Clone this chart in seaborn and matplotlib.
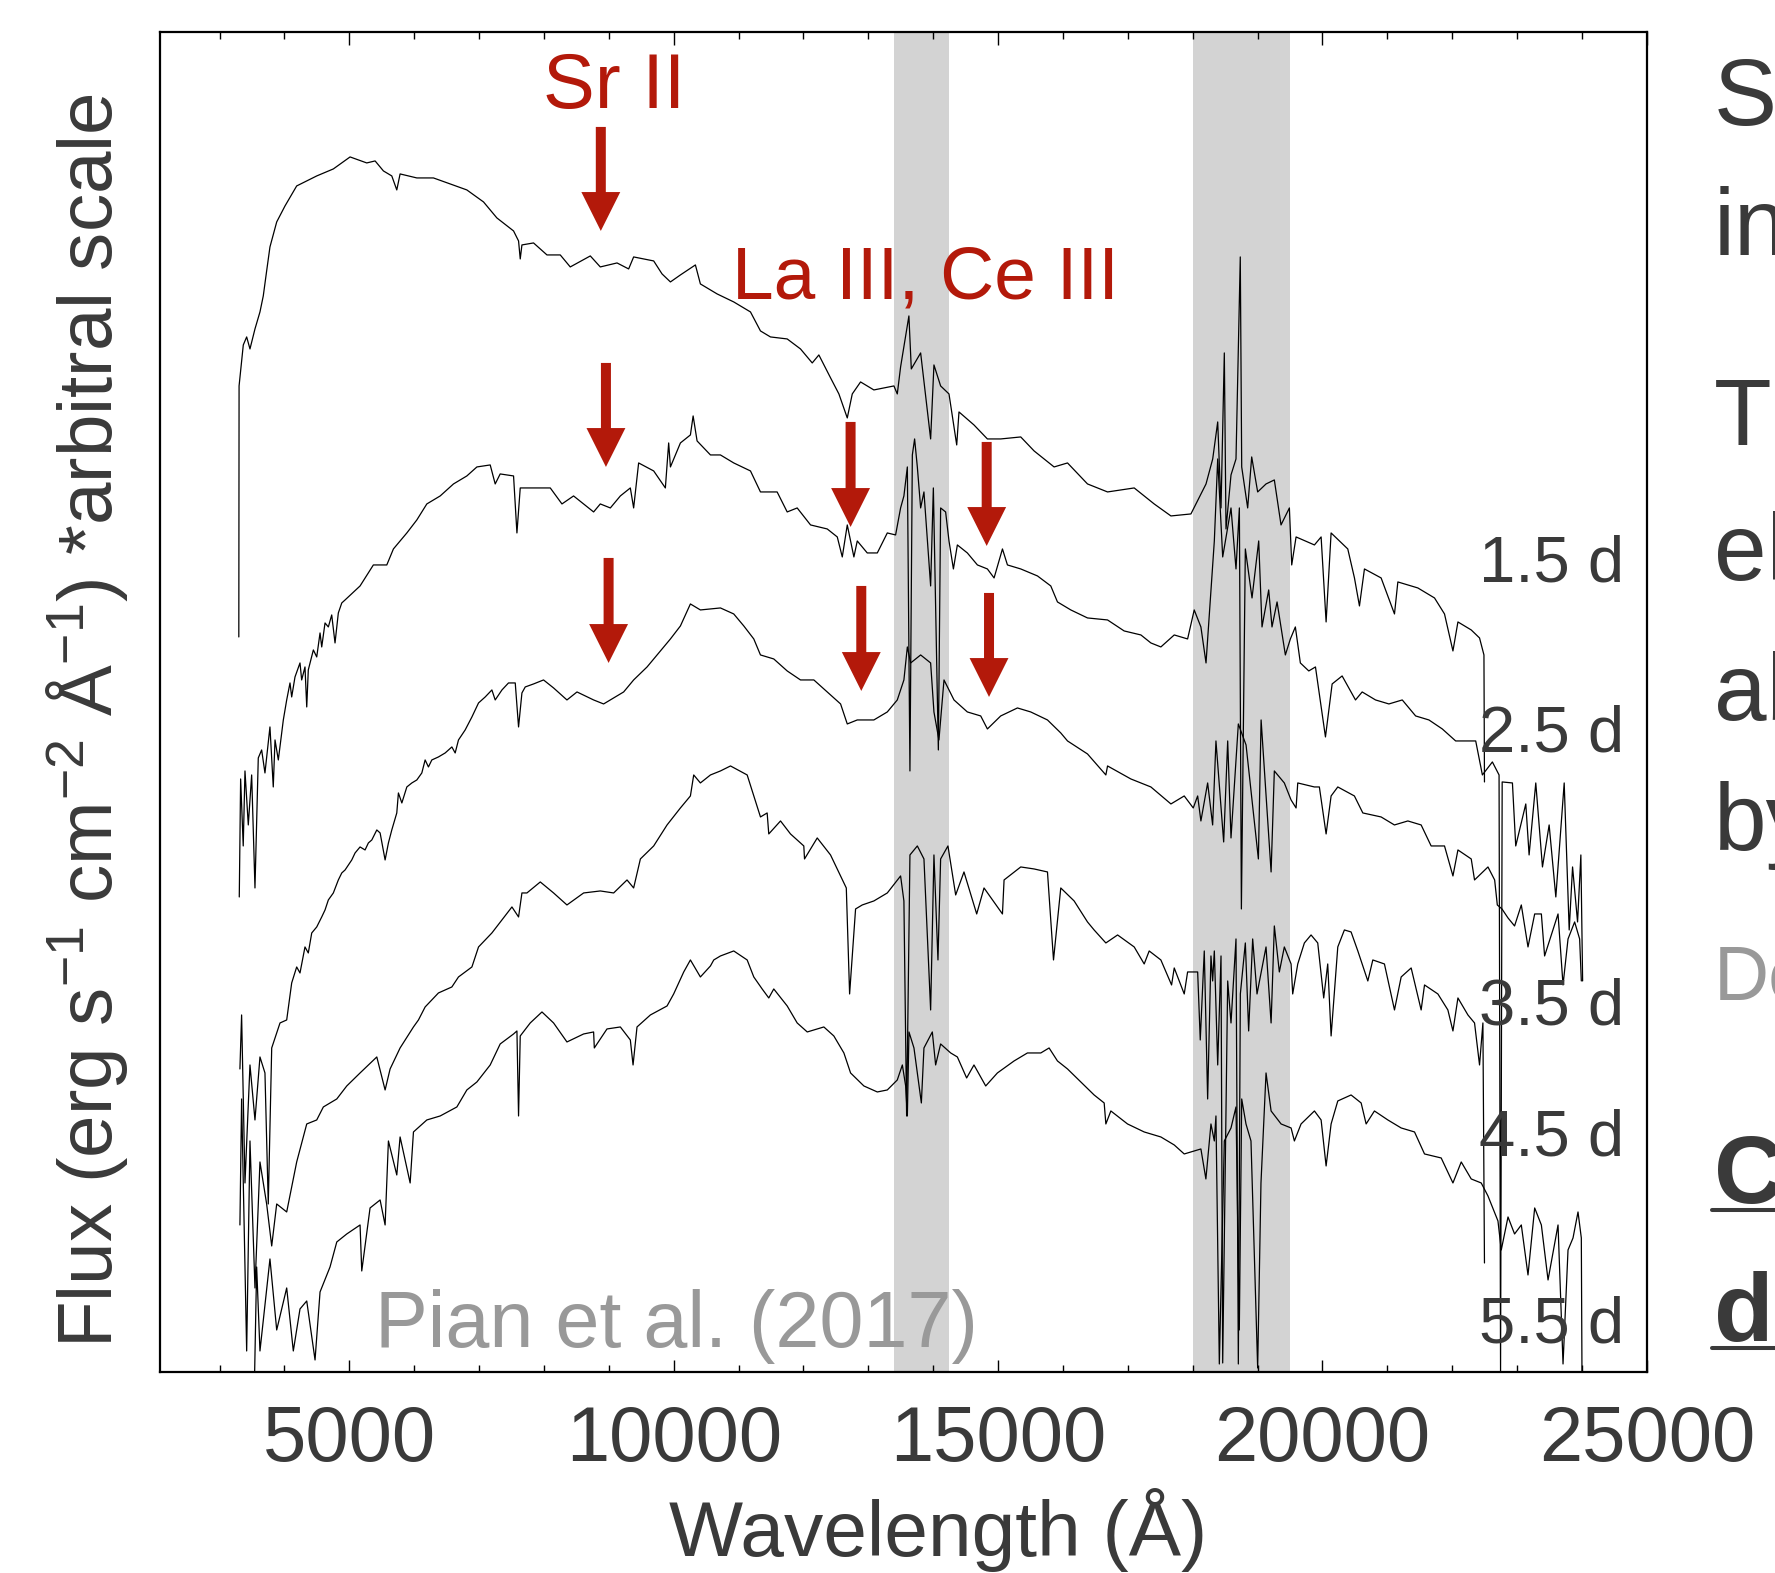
import matplotlib
matplotlib.use('Agg')
import matplotlib.pyplot as plt
import pandas as pd
import seaborn as sns
from matplotlib.ticker import MultipleLocator
from matplotlib.lines import Line2D

# spectra (wavelength in Angstrom, flux in arbitrary offset units)
wl_15 = [3296, 3300, 3365, 3417, 3468, 3545, 3622, 3673, 3725, 3776, 3880, 4008, 4188, 4497, 4753, 5011,
         5268, 5397, 5525, 5654, 5731, 5782, 6040, 6296, 6554, 6811, 7068, 7274, 7531, 7608, 7634, 7660,
         7839, 8046, 8251, 8405, 8714, 8868, 9126, 9305, 9382, 9691, 9820, 9949, 10103, 10334, 10411,
         10669, 10925, 11183, 11337, 11491, 11749, 11954, 12135, 12237, 12418, 12546, 12675, 12752, 12880,
         13085, 13394, 13446, 13497, 13625, 13662, 13806, 13960, 14011, 14114, 14243, 14362, 14397, 14628,
         14835, 15040, 15349, 15555, 15863, 16070, 16378, 16687, 17098, 17406, 17664, 17972, 18205, 18308,
         18385, 18436, 18487, 18513, 18590, 18667, 18733, 18755, 18847, 18909, 19001, 19130, 19258, 19361,
         19490, 19526, 19593, 19876, 19979, 20056, 20133, 20390, 20493, 20570, 20647, 20904, 21110, 21162,
         21470, 21727, 21881, 22011, 22088, 22293, 22421, 22489, 22497]
fx_15 = [7.35, 9.86, 10.27, 10.35, 10.23, 10.43, 10.60, 10.76, 11.01, 11.25, 11.50, 11.66, 11.86, 11.96,
         12.03, 12.15, 12.09, 12.11, 12.01, 11.96, 11.82, 11.98, 11.94, 11.94, 11.88, 11.82, 11.70, 11.54,
         11.41, 11.31, 11.13, 11.27, 11.29, 11.17, 11.17, 11.05, 11.16, 11.05, 11.09, 11.03, 11.15, 11.11,
         10.98, 10.90, 10.97, 11.07, 10.88, 10.78, 10.70, 10.60, 10.41, 10.35, 10.33, 10.23, 10.09, 10.17,
         9.94, 9.78, 9.54, 9.78, 9.90, 9.82, 9.86, 9.78, 10.05, 10.56, 10.03, 10.19, 9.33, 10.07, 9.86, 9.78,
         9.27, 9.60, 9.47, 9.33, 9.33, 9.35, 9.21, 9.05, 9.09, 8.88, 8.80, 8.84, 8.68, 8.56, 8.58, 8.88, 9.13,
         9.50, 8.64, 10.19, 8.43, 8.97, 9.13, 11.15, 9.05, 8.64, 9.15, 8.80, 8.88, 8.92, 8.47, 8.64, 8.07,
         8.35, 8.27, 8.35, 7.50, 8.39, 8.23, 7.94, 7.66, 8.03, 7.94, 7.58, 7.90, 7.84, 7.74, 7.58, 7.21, 7.50,
         7.42, 7.34, 7.17, 5.90]

wl_25 = [3303, 3324, 3364, 3391, 3442, 3494, 3545, 3596, 3648, 3699, 3776, 3827, 3854, 3905, 3982, 4034,
         4085, 4111, 4162, 4239, 4265, 4316, 4343, 4367, 4445, 4497, 4548, 4574, 4625, 4676, 4728, 4779,
         4830, 4883, 4934, 5165, 5370, 5577, 5679, 5886, 6040, 6194, 6400, 6605, 6811, 6966, 7171, 7248,
         7325, 7531, 7583, 7634, 7839, 8097, 8277, 8456, 8765, 8868, 9023, 9177, 9331, 9382, 9459, 9691,
         9871, 9922, 9949, 10103, 10257, 10299, 10360, 10566, 10720, 10925, 11183, 11337, 11594, 11749,
         11903, 12109, 12366, 12521, 12598, 12675, 12777, 12829, 12983, 13138, 13292, 13420, 13497, 13548,
         13601, 13641, 13678, 13713, 13755, 13806, 13857, 13960, 14002, 14079, 14114, 14191, 14243, 14311,
         14372, 14526, 14681, 14835, 14938, 15067, 15144, 15349, 15607, 15812, 15915, 16121, 16378, 16687,
         16943, 17201, 17355, 17509, 17715, 17921, 18023, 18126, 18205, 18281, 18333, 18385, 18462, 18590,
         18667, 18719, 18750, 18811, 18914, 19017, 19068, 19171, 19222, 19300, 19428, 19505, 19582, 19659,
         19789, 19892, 20046, 20149, 20303, 20509, 20612, 20818, 21024, 21230, 21436, 21641, 21847, 22053,
         22362, 22465, 22619, 22722, 22745, 22770, 22928, 22979, 23134, 23185, 23288, 23391, 23494, 23597,
         23726, 23803, 23855, 23932, 23983, 24010]
fx_25 = [4.75, 5.93, 5.26, 6.01, 5.47, 5.97, 4.84, 6.14, 6.22, 5.99, 6.45, 5.85, 6.32, 6.12, 6.52, 6.72,
         6.89, 6.75, 6.95, 7.09, 6.92, 7.05, 6.65, 7.02, 7.22, 7.15, 7.39, 7.25, 7.49, 7.45, 7.57, 7.29,
         7.59, 7.69, 7.72, 7.86, 8.07, 8.07, 8.23, 8.39, 8.52, 8.68, 8.76, 8.88, 8.96, 9.05, 9.07, 8.88,
         8.98, 8.96, 8.39, 8.84, 8.84, 8.84, 8.68, 8.76, 8.60, 8.68, 8.64, 8.76, 8.84, 8.64, 9.09, 9.01,
         8.84, 9.29, 9.05, 9.29, 9.37, 9.56, 9.31, 9.17, 9.17, 9.09, 9.01, 8.80, 8.80, 8.60, 8.64, 8.47,
         8.43, 8.35, 8.15, 8.47, 8.15, 8.31, 8.19, 8.19, 8.39, 8.37, 8.64, 8.76, 9.05, 6.01, 9.17, 9.33,
         9.05, 8.64, 8.80, 7.86, 8.84, 6.22, 8.64, 8.60, 8.31, 8.03, 8.27, 8.19, 8.07, 8.03, 7.94, 8.23,
         8.07, 8.03, 7.96, 7.86, 7.70, 7.62, 7.54, 7.52, 7.41, 7.37, 7.29, 7.25, 7.37, 7.33, 7.62, 7.45,
         7.09, 7.82, 8.31, 9.13, 8.15, 8.64, 8.03, 8.64, 4.63, 8.23, 7.74, 8.31, 7.45, 7.82, 7.45, 7.70,
         7.17, 7.33, 7.45, 7.09, 7.01, 7.05, 6.35, 6.88, 6.96, 6.72, 6.80, 6.72, 6.68, 6.72, 6.56, 6.52,
         6.43, 6.31, 6.31, 5.97, 6.10, 5.97, 0.00, 5.90, 5.89, 5.26, 5.68, 5.17, 5.89, 5.05, 5.47, 4.75,
         5.89, 4.42, 5.05, 4.50, 5.17, 3.91]

wl_35 = [3313, 3339, 3391, 3468, 3545, 3622, 3699, 3750, 3803, 3931, 4034, 4111, 4188, 4239, 4316, 4367,
         4420, 4497, 4574, 4625, 4676, 4753, 4830, 4883, 4934, 5037, 5088, 5165, 5242, 5293, 5346, 5423,
         5474, 5551, 5602, 5654, 5731, 5756, 5809, 5886, 5963, 6040, 6117, 6168, 6219, 6271, 6373, 6477,
         6580, 6631, 6682, 6785, 6889, 6991, 7094, 7197, 7248, 7352, 7453, 7557, 7608, 7660, 7711, 7839,
         7993, 8148, 8354, 8509, 8765, 8919, 9073, 9228, 9382, 9589, 9794, 9949, 10103, 10257, 10411,
         10720, 10925, 11080, 11234, 11337, 11542, 11749, 11954, 12160, 12366, 12572, 12675, 12829, 13085,
         13292, 13446, 13548, 13601, 13652, 13806, 13960, 14011, 14088, 14166, 14320, 14526, 14732, 14835,
         15040, 15298, 15503, 15761, 15966, 16070, 16378, 16661, 16687, 17046, 17355, 17664, 17869, 18008,
         18076, 18126, 18230, 18307, 18358, 18477, 18539, 18590, 18703, 18822, 19012, 19054, 19208, 19258,
         19412, 19516, 19593, 19619, 19875, 19952, 20056, 20133, 20236, 20492, 20622, 20904, 21109, 21316,
         21521, 21675, 21881, 22011, 22088, 22293, 22344, 22551, 22654, 22695, 22767, 22860, 22961, 23065,
         23168, 23271, 23374, 23424, 23528, 23631, 23708, 23785, 23887, 23964, 23990]
fx_35 = [3.03, 3.57, 1.89, 3.07, 2.52, 3.15, 2.99, 1.68, 3.24, 3.49, 3.52, 3.89, 4.05, 3.99, 4.25, 4.19,
         4.39, 4.45, 4.55, 4.62, 4.72, 4.79, 4.92, 4.99, 5.02, 5.12, 5.19, 5.25, 5.22, 5.29, 5.32, 5.42,
         5.39, 5.12, 5.29, 5.42, 5.59, 5.79, 5.69, 5.85, 5.89, 5.92, 5.99, 6.12, 6.05, 6.12, 6.15, 6.19,
         6.25, 6.19, 6.32, 6.42, 6.55, 6.69, 6.75, 6.82, 6.72, 6.82, 6.89, 6.89, 6.45, 6.79, 6.85, 6.88,
         6.92, 6.84, 6.72, 6.80, 6.72, 6.68, 6.74, 6.80, 6.92, 7.05, 7.21, 7.33, 7.46, 7.68, 7.62,
         7.64, 7.58, 7.46, 7.33, 7.17, 7.13, 7.01, 6.92, 6.92, 6.80, 6.68, 6.48, 6.52, 6.52,
         6.60, 6.72, 6.92, 7.25, 7.09, 7.17, 7.09, 6.60, 6.32, 6.92, 6.72, 6.60, 6.56, 6.43,
         6.56, 6.64, 6.60, 6.52, 6.39, 6.31, 6.18, 5.97, 6.06, 5.93, 5.85, 5.68, 5.76, 5.64,
         5.76, 5.51, 5.89, 5.47, 6.31, 5.30, 6.31, 5.34, 6.48, 6.27, 5.13, 6.52, 5.00, 6.01,
         5.89, 5.72, 5.64, 5.89, 5.85, 5.85, 5.38, 5.76, 5.85, 5.76, 5.59, 5.55, 5.47, 5.51,
         5.47, 5.26, 5.26, 4.96, 5.22, 5.13, 4.92, 5.05, 4.92, 4.67, 4.63, 4.54, 4.46, 4.67,
         4.25, 4.58, 4.58, 4.16, 4.37, 4.58, 3.87, 4.33, 4.50, 4.33, 3.91]

wl_45 = [3313, 3339, 3417, 3468, 3545, 3622, 3725, 3803, 3880, 4034, 4188, 4343, 4497, 4599, 4806, 4960,
         5165, 5423, 5551, 5628, 5782, 5988, 6065, 6168, 6373, 6580, 6682, 6889, 6991, 7197, 7352, 7506,
         7608, 7660, 7737, 7943, 8148, 8354, 8611, 8868, 9074, 9280, 9382, 9486, 9691, 9897, 10103, 10257,
         10308, 10411, 10566, 10720, 10875, 11132, 11234, 11337, 11440, 11465, 11646, 11800, 12005, 12016,
         12212, 12417, 12572, 12660, 12711, 12752, 12803, 12906, 13085, 13292, 13497, 13548, 13590, 13641,
         13755, 13857, 13960, 14011, 14073, 14114, 14227, 14346, 14474, 14670, 14783, 15067, 15092, 15349,
         15555, 15761, 15854, 15966, 16172, 16378, 16480, 16661, 16842, 17098, 17252, 17329, 17509, 17674,
         17715, 17869, 17921, 18076, 18116, 18178, 18230, 18281, 18307, 18333, 18385, 18436, 18462, 18539,
         18590, 18667, 18703, 18734, 18811, 18862, 18924, 18991, 19130, 19208, 19258, 19335, 19412, 19516,
         19541, 19619, 19721, 19824, 19927, 20019, 20081, 20133, 20236, 20338, 20441, 20545, 20699, 20776,
         20955, 21110, 21213, 21367, 21521, 21573, 21779, 21933, 22011, 22088, 22242, 22344, 22421, 22473,
         22497]
fx_45 = [1.47, 2.73, 0.21, 2.31, 0.84, 2.10, 1.68, 1.26, 1.68, 1.60, 2.10, 2.48, 2.52, 2.65, 2.73, 2.86,
         2.99, 3.15, 2.82, 3.03, 3.24, 3.45, 3.52, 3.65, 3.79, 3.85, 3.95, 4.05, 4.25, 4.39, 4.52, 4.65,
         4.55, 4.79, 4.79, 4.90, 4.79, 4.67, 4.79, 4.81, 4.79, 4.92, 4.84, 5.13, 5.26, 5.47, 5.64, 5.76,
         5.97, 5.89, 5.97, 6.01, 6.06, 5.97, 5.76, 5.55, 5.59, 5.38, 5.51, 5.38, 5.26, 5.13,
         5.34, 5.17, 4.96, 4.84, 3.78, 4.16, 4.63, 4.67, 4.71, 4.79, 4.96, 4.71, 2.56, 5.17,
         5.26, 5.13, 3.62, 5.17, 4.12, 5.13, 5.26, 4.77, 5.00, 4.58, 4.84, 4.58, 4.92, 5.05,
         5.03, 5.00, 4.12, 4.84, 4.71, 4.50, 4.42, 4.29, 4.37, 4.25, 4.08, 4.21, 4.12, 3.87,
         4.04, 3.78, 4.00, 4.00, 3.32, 4.21, 2.73, 4.16, 3.91, 4.21, 3.07, 4.16, 0.09, 3.91,
         3.49, 4.33, 0.08, 3.78, 4.29, 3.41, 4.33, 3.78, 4.25, 3.49, 4.46, 4.00, 4.25, 4.08,
         3.78, 4.08, 4.29, 4.37, 4.29, 3.74, 4.08, 3.36, 4.25, 4.42, 4.40, 4.21, 3.91, 4.12,
         4.08, 3.62, 3.95, 4.04, 3.62, 3.87, 3.78, 3.62, 3.41, 3.74, 3.57, 3.49, 3.07, 3.49,
         1.09]

wl_55 = [3540, 3571, 3622, 3776, 3880, 4034, 4136, 4239, 4343, 4471, 4548, 4702, 4806, 4960, 5165, 5191,
         5319, 5474, 5551, 5602, 5731, 5782, 5937, 5988, 6194, 6400, 6657, 6811, 6966, 7171, 7325, 7531,
         7583, 7608, 7634, 7788, 7969, 8148, 8354, 8611, 8765, 8776, 8971, 9177, 9331, 9373, 9434, 9640,
         9897, 9999, 10154, 10257, 10411, 10566, 10617, 10720, 10925, 11132, 11234, 11363, 11465, 11542,
         11749, 11903, 12058, 12314, 12468, 12623, 12726, 12931, 13138, 13292, 13446, 13524, 13575, 13601,
         13626, 13703, 13817, 13857, 13986, 14037, 14114, 14269, 14372, 14515, 14628, 14809, 14989, 15246,
         15452, 15658, 15786, 15915, 16070, 16275, 16480, 16635, 16661, 16738, 16995, 17252, 17509, 17715,
         17869, 18023, 18126, 18203, 18281, 18333, 18358, 18410, 18487, 18590, 18667, 18718, 18755, 18821,
         18898, 19001, 19052, 19130, 19208, 19362, 19516, 19567, 19670, 19876, 19979, 20056, 20133, 20236,
         20441, 20596, 20673, 20801, 21008, 21213, 21419, 21573, 21830, 22011, 22139, 22293, 22447, 22551,
         22705, 22756, 22860, 22961, 23065, 23168, 23271, 23374, 23477, 23631, 23708, 23785, 23862, 23939,
         23990, 24000]
fx_55 = [0.00, 1.05, 0.21, 1.13, 0.42, 0.84, 0.21, 0.63, 0.71, 0.12, 0.80, 1.05, 1.30, 1.38, 1.47, 1.01,
         1.64, 1.72, 1.47, 2.31, 1.97, 2.35, 1.89, 2.40, 2.52, 2.56, 2.65, 2.82, 2.90, 3.07, 3.28, 3.38,
         3.41, 2.56, 3.36, 3.49, 3.60, 3.49, 3.30, 3.38, 3.40, 3.24, 3.43, 3.45, 3.32, 3.07, 3.45, 3.57,
         3.66, 3.78, 4.00, 4.12, 3.95, 4.06, 4.12, 4.16, 4.21, 4.12, 3.95, 3.83, 3.74, 3.83, 3.66, 3.49,
         3.40, 3.45, 3.36, 3.19, 2.99, 2.86, 2.80, 2.82, 2.92, 3.07, 2.86, 2.56, 3.40, 3.24, 2.69, 3.24,
         3.40, 3.07, 3.28, 3.19, 3.15, 2.94, 3.07, 2.86, 2.99, 3.11, 3.19, 3.19, 3.24, 3.11, 3.03, 2.90,
         2.77, 2.69, 2.48, 2.61, 2.48, 2.40, 2.35, 2.27, 2.18, 2.21, 2.23, 1.93, 2.48, 2.31, 2.56, 0.08,
         2.31, 2.44, 2.65, 0.42, 2.73, 2.48, 2.31, 0.04, 1.89, 2.99, 2.61, 2.48, 2.44, 2.31, 2.48, 2.61,
         2.52, 2.06, 2.48, 2.71, 2.77, 2.69, 2.48, 2.61, 2.52, 2.44, 2.40, 2.18, 2.14, 1.89, 2.10, 1.93,
         1.89, 1.76, 1.51, 1.22, 1.55, 1.38, 1.47, 0.97, 1.64, 1.47, 0.92, 1.47, 0.08, 1.22, 1.34, 1.60,
         1.34, 0.00]

epochs = ['1.5 d', '2.5 d', '3.5 d', '4.5 d', '5.5 d']
label_flux = [7.90, 6.20, 3.47, 2.16, 0.29]
telluric = [(13400, 14250), (18000, 19500)]

# line identification arrows: wavelength, arrow top, arrow tip
arrow_wl = [8876, 8955, 8996, 12726, 14824, 12891, 14860]
arrow_top = [12.45, 10.09, 8.14, 9.50, 9.30, 7.86, 7.79]
arrow_tip = [11.41, 9.05, 7.09, 8.45, 8.26, 6.81, 6.75]

spectra = pd.concat([
    pd.DataFrame({'wavelength': w, 'flux': f, 'epoch': e})
    for w, f, e in zip([wl_15, wl_25, wl_35, wl_45, wl_55],
                       [fx_15, fx_25, fx_35, fx_45, fx_55], epochs)
])

sns.set_style('white')
plt.rcParams['font.family'] = ['Liberation Sans', 'DejaVu Sans']
plt.rcParams['mathtext.fontset'] = 'custom'
plt.rcParams['mathtext.rm'] = 'Liberation Sans'
plt.rcParams['mathtext.it'] = 'Liberation Sans:italic'
plt.rcParams['mathtext.bf'] = 'Liberation Sans:bold'

txt = '#3a3a3a'
red = '#b3190a'

fig = plt.figure(figsize=(17.75, 15.73), dpi=100)
ax = fig.add_axes([0.0901, 0.1278, 0.8377, 0.8519])

for lo, hi in telluric:
    ax.axvspan(lo, hi, color='#d3d3d3', lw=0, zorder=0)

sns.lineplot(data=spectra, x='wavelength', y='flux', units='epoch', estimator=None,
             sort=False, color='black', lw=0.9, ax=ax, zorder=2)

for w, t, b in zip(arrow_wl, arrow_top, arrow_tip):
    ax.annotate('', xy=(w, b), xytext=(w, t),
                arrowprops=dict(facecolor=red, edgecolor='none', width=7.2,
                                headwidth=28, headlength=28, shrink=0), zorder=4)

ax.text(9078, 12.64, 'Sr II', color=red, fontsize=56, ha='center', va='baseline')
ax.text(13882, 10.73, 'La III, Ce III', color=red, fontsize=54, ha='center', va='baseline')
ax.text(5396, 0.25, 'Pian et al. (2017)', color='#999999', fontsize=57, ha='left', va='baseline', zorder=3)

for e, y in zip(epochs, label_flux):
    ax.text(24654, y, e, color=txt, fontsize=47, ha='right', va='baseline', zorder=3)

ax.set_xlim(2080, 25000)
ax.set_ylim(0, 13.4)
ax.set_yticks([])
ax.xaxis.set_major_locator(MultipleLocator(5000))
ax.xaxis.set_minor_locator(MultipleLocator(1000))
ax.tick_params(axis='x', which='both', direction='in', top=True, bottom=True,
               color='black', width=1.0, labelsize=56, labelcolor=txt, pad=23)
ax.tick_params(axis='x', which='major', length=9)
ax.tick_params(axis='x', which='minor', length=5)
for s in ax.spines.values():
    s.set_color('black')
    s.set_linewidth(1.6)

ax.set_xlabel('Wavelength (Å)', fontsize=56.5, color=txt)
ax.set_ylabel('Flux (erg s$^{-1}$ cm$^{-2}$ Å$^{-1}$) *arbitral scale', fontsize=55, color=txt)
ax.xaxis.set_label_coords(0.5235, -0.0865)
ax.yaxis.set_label_coords(-0.020, 0.486)

# slide text cut off at the right edge
side = [('Sr', 0.9205, txt, 'normal', 68), ('in', 0.8379, txt, 'normal', 68),
        ('Th', 0.7171, txt, 'normal', 68), ('el', 0.6313, txt, 'normal', 68),
        ('ab', 0.5423, txt, 'normal', 68), ('by', 0.4596, txt, 'normal', 68),
        ('De', 0.3643, '#999999', 'normal', 55), ('Co', 0.2352, txt, 'bold', 70),
        ('de', 0.1475, txt, 'bold', 70)]
for s, y, c, wgt, fs in side:
    fig.text(0.9656, y, s, color=c, fontsize=fs, fontweight=wgt, ha='left', va='baseline')
for y in [1 - 1210 / 1573, 1 - 1348 / 1573]:
    fig.add_artist(Line2D([1712 / 1775, 1.0], [y, y], color=txt, lw=2.9))

fig.savefig('out.png', dpi=100)
